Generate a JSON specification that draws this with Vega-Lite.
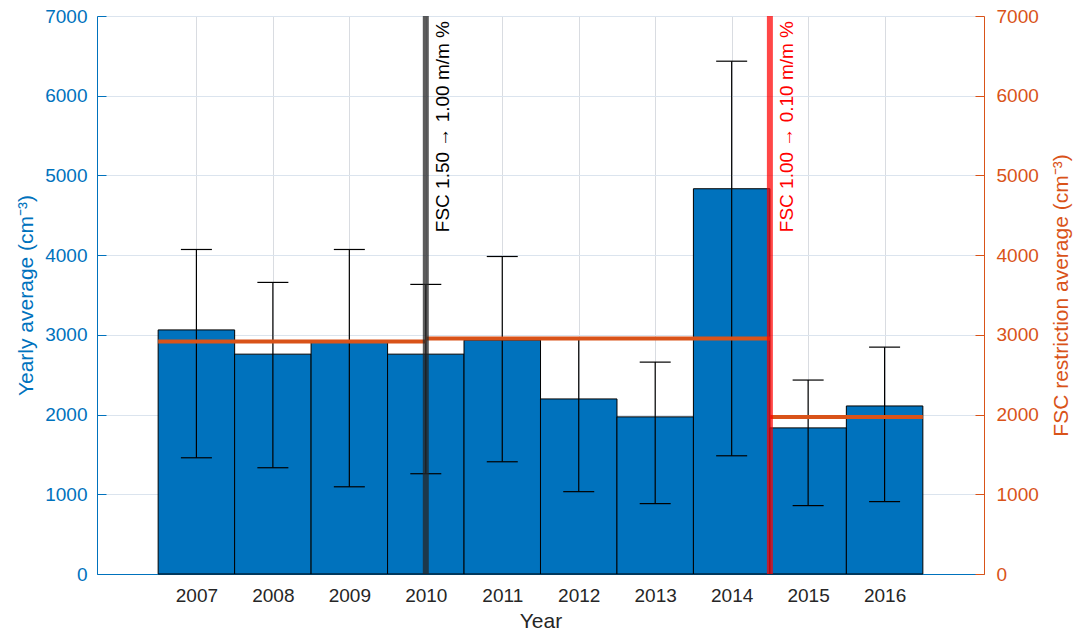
{
  "$schema": "https://vega.github.io/schema/vega-lite/v6.json",
  "width": 887,
  "height": 558,
  "autosize": "none",
  "padding": {"left": 97, "top": 16, "right": 103, "bottom": 70},
  "config": {
    "font": "Liberation Sans",
    "view": {"stroke": null},
    "axis": {"labelFont": "Liberation Sans", "titleFont": "Liberation Sans", "titleFontWeight": "normal"}
  },
  "datasets": {
    "yearly": [
      {"year": 2007, "avg": 3062, "lo": 1458, "hi": 4071},
      {"year": 2008, "avg": 2758, "lo": 1333, "hi": 3658},
      {"year": 2009, "avg": 2910, "lo": 1094, "hi": 4071},
      {"year": 2010, "avg": 2758, "lo": 1258, "hi": 3633},
      {"year": 2011, "avg": 2935, "lo": 1408, "hi": 3983},
      {"year": 2012, "avg": 2196, "lo": 1033, "hi": 2960},
      {"year": 2013, "avg": 1971, "lo": 883, "hi": 2658},
      {"year": 2014, "avg": 4833, "lo": 1483, "hi": 6433},
      {"year": 2015, "avg": 1833, "lo": 858, "hi": 2433},
      {"year": 2016, "avg": 2108, "lo": 908, "hi": 2846}
    ],
    "restriction": [
      {"from": 2006.5, "to": 2010, "avg": 2917},
      {"from": 2010, "to": 2014.5, "avg": 2954},
      {"from": 2014.5, "to": 2016.5, "avg": 1971}
    ]
  },
  "layer": [
    {
      "data": {"name": "yearly"},
      "mark": {"type": "bar", "color": "#0072BD", "stroke": "black", "strokeWidth": 1, "size": 76.5},
      "encoding": {
        "x": {
          "field": "year", "type": "quantitative",
          "scale": {"domain": [2005.7, 2017.3], "nice": false, "zero": false, "padding": 0},
          "axis": {
            "title": "Year", "values": [2007, 2008, 2009, 2010, 2011, 2012, 2013, 2014, 2015, 2016],
            "format": "d", "ticks": false, "labelFontSize": 19, "labelColor": "#262626",
            "labelPadding": 12, "titleFontSize": 21, "titleColor": "#262626", "titlePadding": 5,
            "domainColor": "#0072BD", "grid": true, "gridColor": "#d9dce1", "labelFlush": false
          }
        },
        "y": {
          "field": "avg", "type": "quantitative",
          "scale": {"domain": [0, 7000], "nice": false},
          "axis": {
            "title": "Yearly average (cm⁻³)", "values": [0, 1000, 2000, 3000, 4000, 5000, 6000, 7000],
            "format": "d",
            "domainColor": "#0072BD", "tickColor": "#0072BD", "tickSize": -9, "labelPadding": 19,
            "labelColor": "#0072BD", "labelFontSize": 19, "titleColor": "#0072BD", "titleFontSize": 21,
            "titlePadding": 8, "grid": true, "gridColor": "#dbe4ee"
          }
        }
      }
    },
    {
      "data": {"name": "yearly"},
      "mark": {"type": "rule", "color": "black", "strokeWidth": 1.2},
      "encoding": {
        "x": {"field": "year", "type": "quantitative"},
        "y": {"field": "lo", "type": "quantitative", "scale": {"domain": [0, 7000], "nice": false}, "axis": null},
        "y2": {"field": "hi"}
      }
    },
    {
      "data": {"name": "yearly"},
      "mark": {"type": "tick", "orient": "horizontal", "color": "black", "size": 31, "thickness": 1.2, "opacity": 1},
      "encoding": {
        "x": {"field": "year", "type": "quantitative"},
        "y": {"field": "lo", "type": "quantitative", "scale": {"domain": [0, 7000], "nice": false}, "axis": null}
      }
    },
    {
      "data": {"name": "yearly"},
      "mark": {"type": "tick", "orient": "horizontal", "color": "black", "size": 31, "thickness": 1.2, "opacity": 1},
      "encoding": {
        "x": {"field": "year", "type": "quantitative"},
        "y": {"field": "hi", "type": "quantitative", "scale": {"domain": [0, 7000], "nice": false}, "axis": null}
      }
    },
    {
      "data": {"name": "restriction"},
      "mark": {"type": "rule", "color": "#D95319", "strokeWidth": 4},
      "encoding": {
        "x": {"field": "from", "type": "quantitative"},
        "x2": {"field": "to"},
        "y": {
          "field": "avg", "type": "quantitative",
          "scale": {"domain": [0, 7000], "nice": false},
          "axis": {
            "orient": "right", "title": "FSC restriction average (cm⁻³)",
            "values": [0, 1000, 2000, 3000, 4000, 5000, 6000, 7000], "format": "d",
            "domainColor": "#D95319", "tickColor": "#D95319", "tickSize": -9, "labelPadding": 21,
            "labelColor": "#D95319", "labelFontSize": 19, "titleColor": "#D95319", "titleFontSize": 21,
            "titleAngle": 270, "titleBaseline": "top", "titlePadding": 12, "grid": false
          }
        }
      }
    },
    {
      "data": {"values": [{"year": 2010}]},
      "mark": {"type": "rule", "color": "#262626", "opacity": 0.75, "strokeWidth": 6},
      "encoding": {"x": {"field": "year", "type": "quantitative"}}
    },
    {
      "data": {"values": [{"year": 2014.5}]},
      "mark": {"type": "rule", "color": "#ff0000", "opacity": 0.72, "strokeWidth": 6},
      "encoding": {"x": {"field": "year", "type": "quantitative"}}
    },
    {
      "data": {"values": [{"year": 2010, "top": 7000, "label": "FSC 1.50 → 1.00 m/m %"}]},
      "mark": {"type": "text", "angle": 270, "align": "right", "baseline": "top", "dx": -5, "dy": 8, "fontSize": 19, "color": "black"},
      "encoding": {
        "x": {"field": "year", "type": "quantitative"},
        "y": {"field": "top", "type": "quantitative", "scale": {"domain": [0, 7000], "nice": false}, "axis": null},
        "text": {"field": "label"}
      }
    },
    {
      "data": {"values": [{"year": 2014.5, "top": 7000, "label": "FSC 1.00 → 0.10 m/m %"}]},
      "mark": {"type": "text", "angle": 270, "align": "right", "baseline": "top", "dx": -5, "dy": 8, "fontSize": 19, "color": "#ff0000"},
      "encoding": {
        "x": {"field": "year", "type": "quantitative"},
        "y": {"field": "top", "type": "quantitative", "scale": {"domain": [0, 7000], "nice": false}, "axis": null},
        "text": {"field": "label"}
      }
    }
  ],
  "resolve": {"scale": {"y": "independent"}}
}
